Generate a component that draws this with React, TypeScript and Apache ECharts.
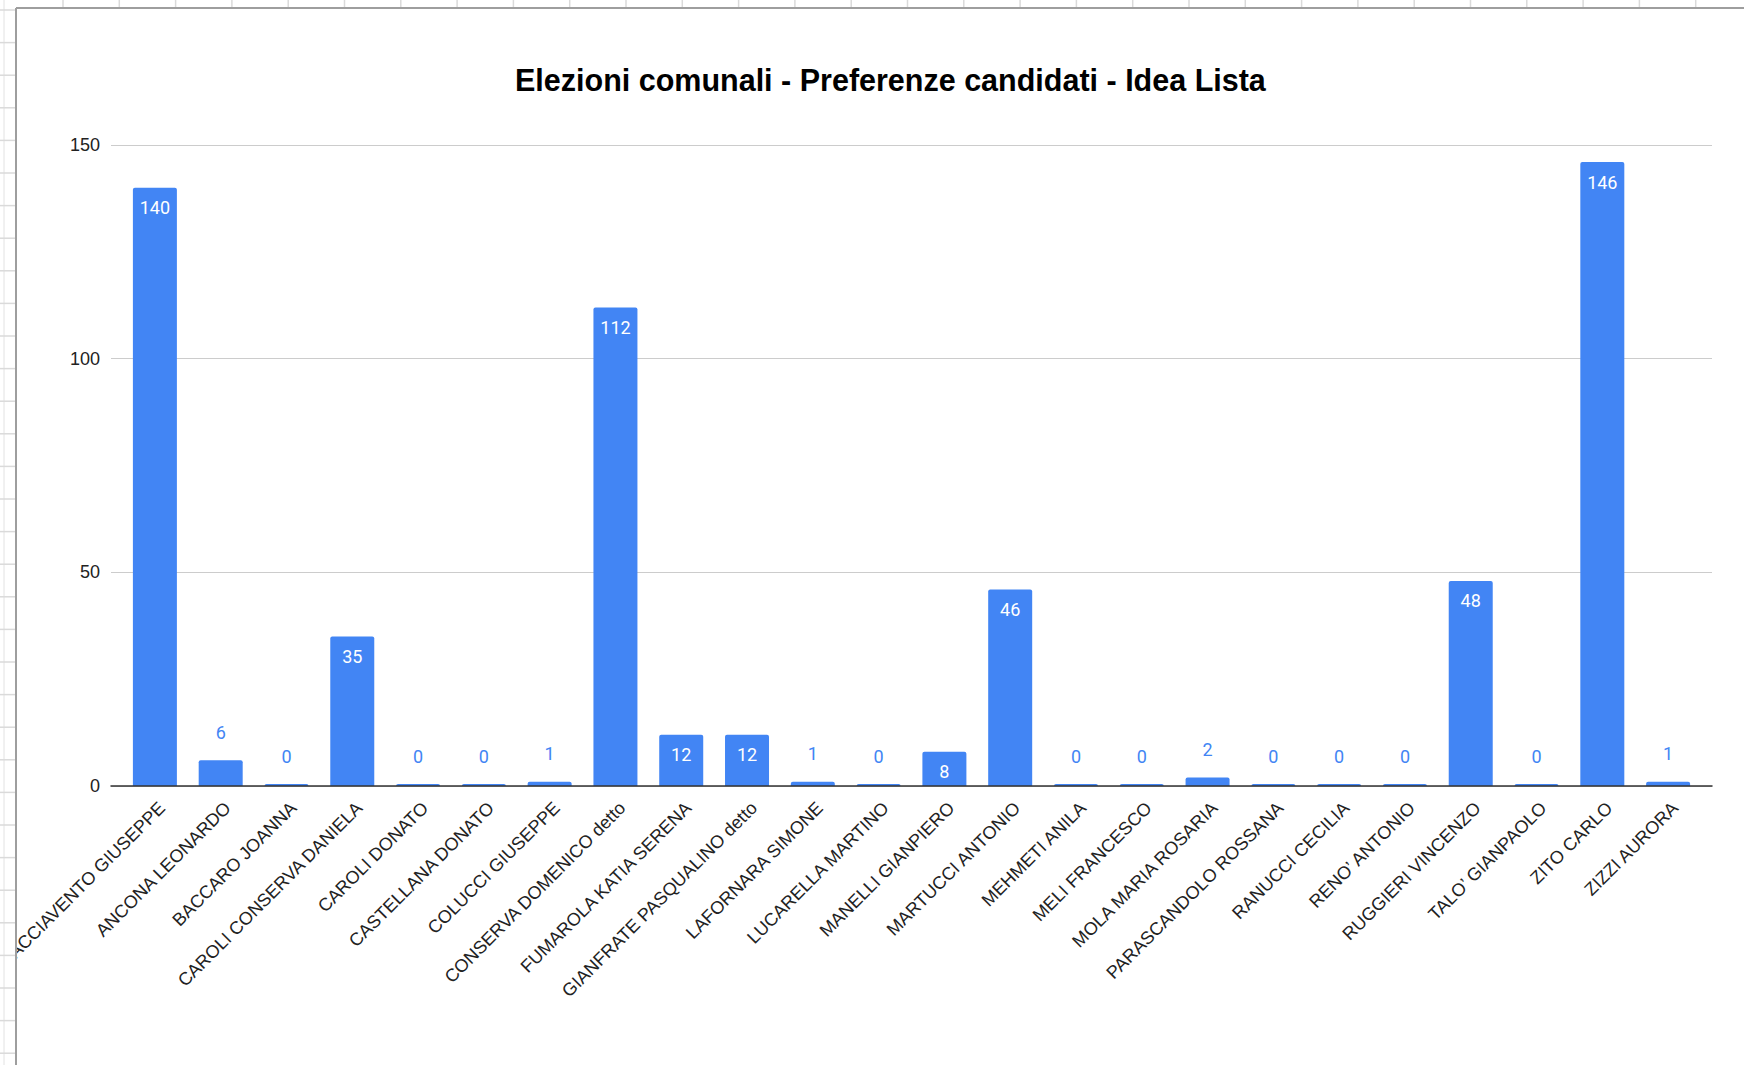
import React, { useEffect, useRef } from "react";
import * as echarts from "echarts";

const TITLE = "Elezioni comunali - Preferenze candidati - Idea Lista";
const candidates = [
  "ACCIAVENTO GIUSEPPE",
  "ANCONA LEONARDO",
  "BACCARO JOANNA",
  "CAROLI CONSERVA DANIELA",
  "CAROLI DONATO",
  "CASTELLANA DONATO",
  "COLUCCI GIUSEPPE",
  "CONSERVA DOMENICO detto",
  "FUMAROLA KATIA SERENA",
  "GIANFRATE PASQUALINO detto",
  "LAFORNARA SIMONE",
  "LUCARELLA MARTINO",
  "MANELLI GIANPIERO",
  "MARTUCCI ANTONIO",
  "MEHMETI ANILA",
  "MELI FRANCESCO",
  "MOLA MARIA ROSARIA",
  "PARASCANDOLO ROSSANA",
  "RANUCCI CECILIA",
  "RENO\u2019 ANTONIO",
  "RUGGIERI VINCENZO",
  "TALO\u2019 GIANPAOLO",
  "ZITO CARLO",
  "ZIZZI AURORA",
];
const votes = [140, 6, 0, 35, 0, 0, 1, 112, 12, 12, 1, 0, 8, 46, 0, 0, 2, 0, 0, 0, 48, 0, 146, 1];
const yTicks = [0, 50, 100, 150];

const BLUE = "#4285F4";

export default function App() {
  const ref = useRef<HTMLDivElement>(null);

  useEffect(() => {
    if (!ref.current) return;
    const chart = echarts.init(ref.current, undefined, { renderer: "svg" });
    const yMin = yTicks[0];
    const yMax = yTicks[yTicks.length - 1];
    const yInt = yTicks[1] - yTicks[0];

    const barData = votes.map((v) => {
      const inside = v >= 7;
      return {
        value: v,
        label: inside
          ? { position: "insideTop", distance: 11, color: "#ffffff" }
          : { position: "top", distance: 19, color: BLUE },
      };
    });

    // spreadsheet background decoration
    const deco: any[] = [
      { type: "rect", shape: { x: 0, y: 0, width: 16, height: 1065 }, style: { fill: "#ffffff" }, z: 100 },
      { type: "rect", shape: { x: 0, y: 0, width: 1744, height: 8 }, style: { fill: "#ffffff" }, z: 100 },
      { type: "line", shape: { x1: 4, y1: 0, x2: 4, y2: 1065 }, style: { stroke: "#e2e2e2", lineWidth: 1 }, z: 101 },
    ];
    for (let x = 63; x < 1744; x += 56.3) {
      deco.push({ type: "line", shape: { x1: x, y1: 0, x2: x, y2: 8 }, style: { stroke: "#dadada", lineWidth: 1.5 }, z: 101 });
    }
    for (let y = 10; y < 1065; y += 32.6) {
      deco.push({ type: "line", shape: { x1: 0, y1: y, x2: 16, y2: y }, style: { stroke: "#dadada", lineWidth: 1.5 }, z: 101 });
    }
    deco.push({ type: "line", shape: { x1: 16, y1: 8, x2: 1744, y2: 8 }, style: { stroke: "#9e9e9e", lineWidth: 2 }, z: 102 });
    deco.push({ type: "line", shape: { x1: 16, y1: 8, x2: 16, y2: 1065 }, style: { stroke: "#9e9e9e", lineWidth: 2 }, z: 102 });

    chart.setOption({
      animation: false,
      backgroundColor: "#ffffff",
      title: {
        text: TITLE,
        left: 515,
        top: 64,
        padding: 0,
        textStyle: {
          fontFamily: "Liberation Sans",
          fontWeight: "bold",
          fontSize: 30.5,
          color: "#000000",
        },
      },
      graphic: deco,
      grid: [
        { left: 111, right: 32, top: 145, bottom: 279 },
        { left: 122, right: 43, top: 145, bottom: 279 },
        { left: 129, right: 36, top: 145, bottom: 279 },
      ],
      xAxis: [
        {
          gridIndex: 0,
          type: "category",
          data: [""],
          axisLine: { show: true, lineStyle: { color: "#333333", width: 1.5 } },
          axisTick: { show: false },
          axisLabel: { show: false },
          z: 5,
        },
        {
          gridIndex: 1,
          type: "category",
          data: candidates,
          axisLine: { show: false },
          axisTick: { show: false },
          axisLabel: { show: false },
        },
        {
          gridIndex: 2,
          type: "category",
          data: candidates,
          axisLine: { show: false },
          axisTick: { show: false },
          axisLabel: {
            show: true,
            interval: 0,
            rotate: 45,
            margin: 19,
            fontSize: 18,
            fontFamily: "Liberation Sans",
            color: "#222222",
          },
        },
      ],
      yAxis: [
        {
          gridIndex: 0,
          type: "value",
          min: yMin,
          max: yMax,
          interval: yInt,
          axisLine: { show: false },
          axisTick: { show: false },
          axisLabel: { fontSize: 18, fontFamily: "Liberation Sans", color: "#222222", margin: 11 },
          splitLine: { lineStyle: { color: "#cccccc", width: 1 } },
        },
        { gridIndex: 1, type: "value", min: yMin, max: yMax, interval: yInt, show: false, splitLine: { show: false } },
        { gridIndex: 2, type: "value", min: yMin, max: yMax, interval: yInt, show: false, splitLine: { show: false } },
      ],
      series: [
        {
          type: "bar",
          name: "Preferenze",
          xAxisIndex: 1,
          yAxisIndex: 1,
          data: barData,
          barWidth: 44,
          barMinHeight: 2,
          itemStyle: { color: BLUE, borderRadius: [2, 2, 0, 0] },
          label: {
            show: true,
            fontSize: 18,
            fontFamily: "Roboto",
          },
        },
      ],
    });

    return () => chart.dispose();
  }, []);

  return (
    <div
      ref={ref}
      style={{ position: "fixed", left: 0, top: 0, width: 1744, height: 1065, background: "#fff" }}
    />
  );
}
